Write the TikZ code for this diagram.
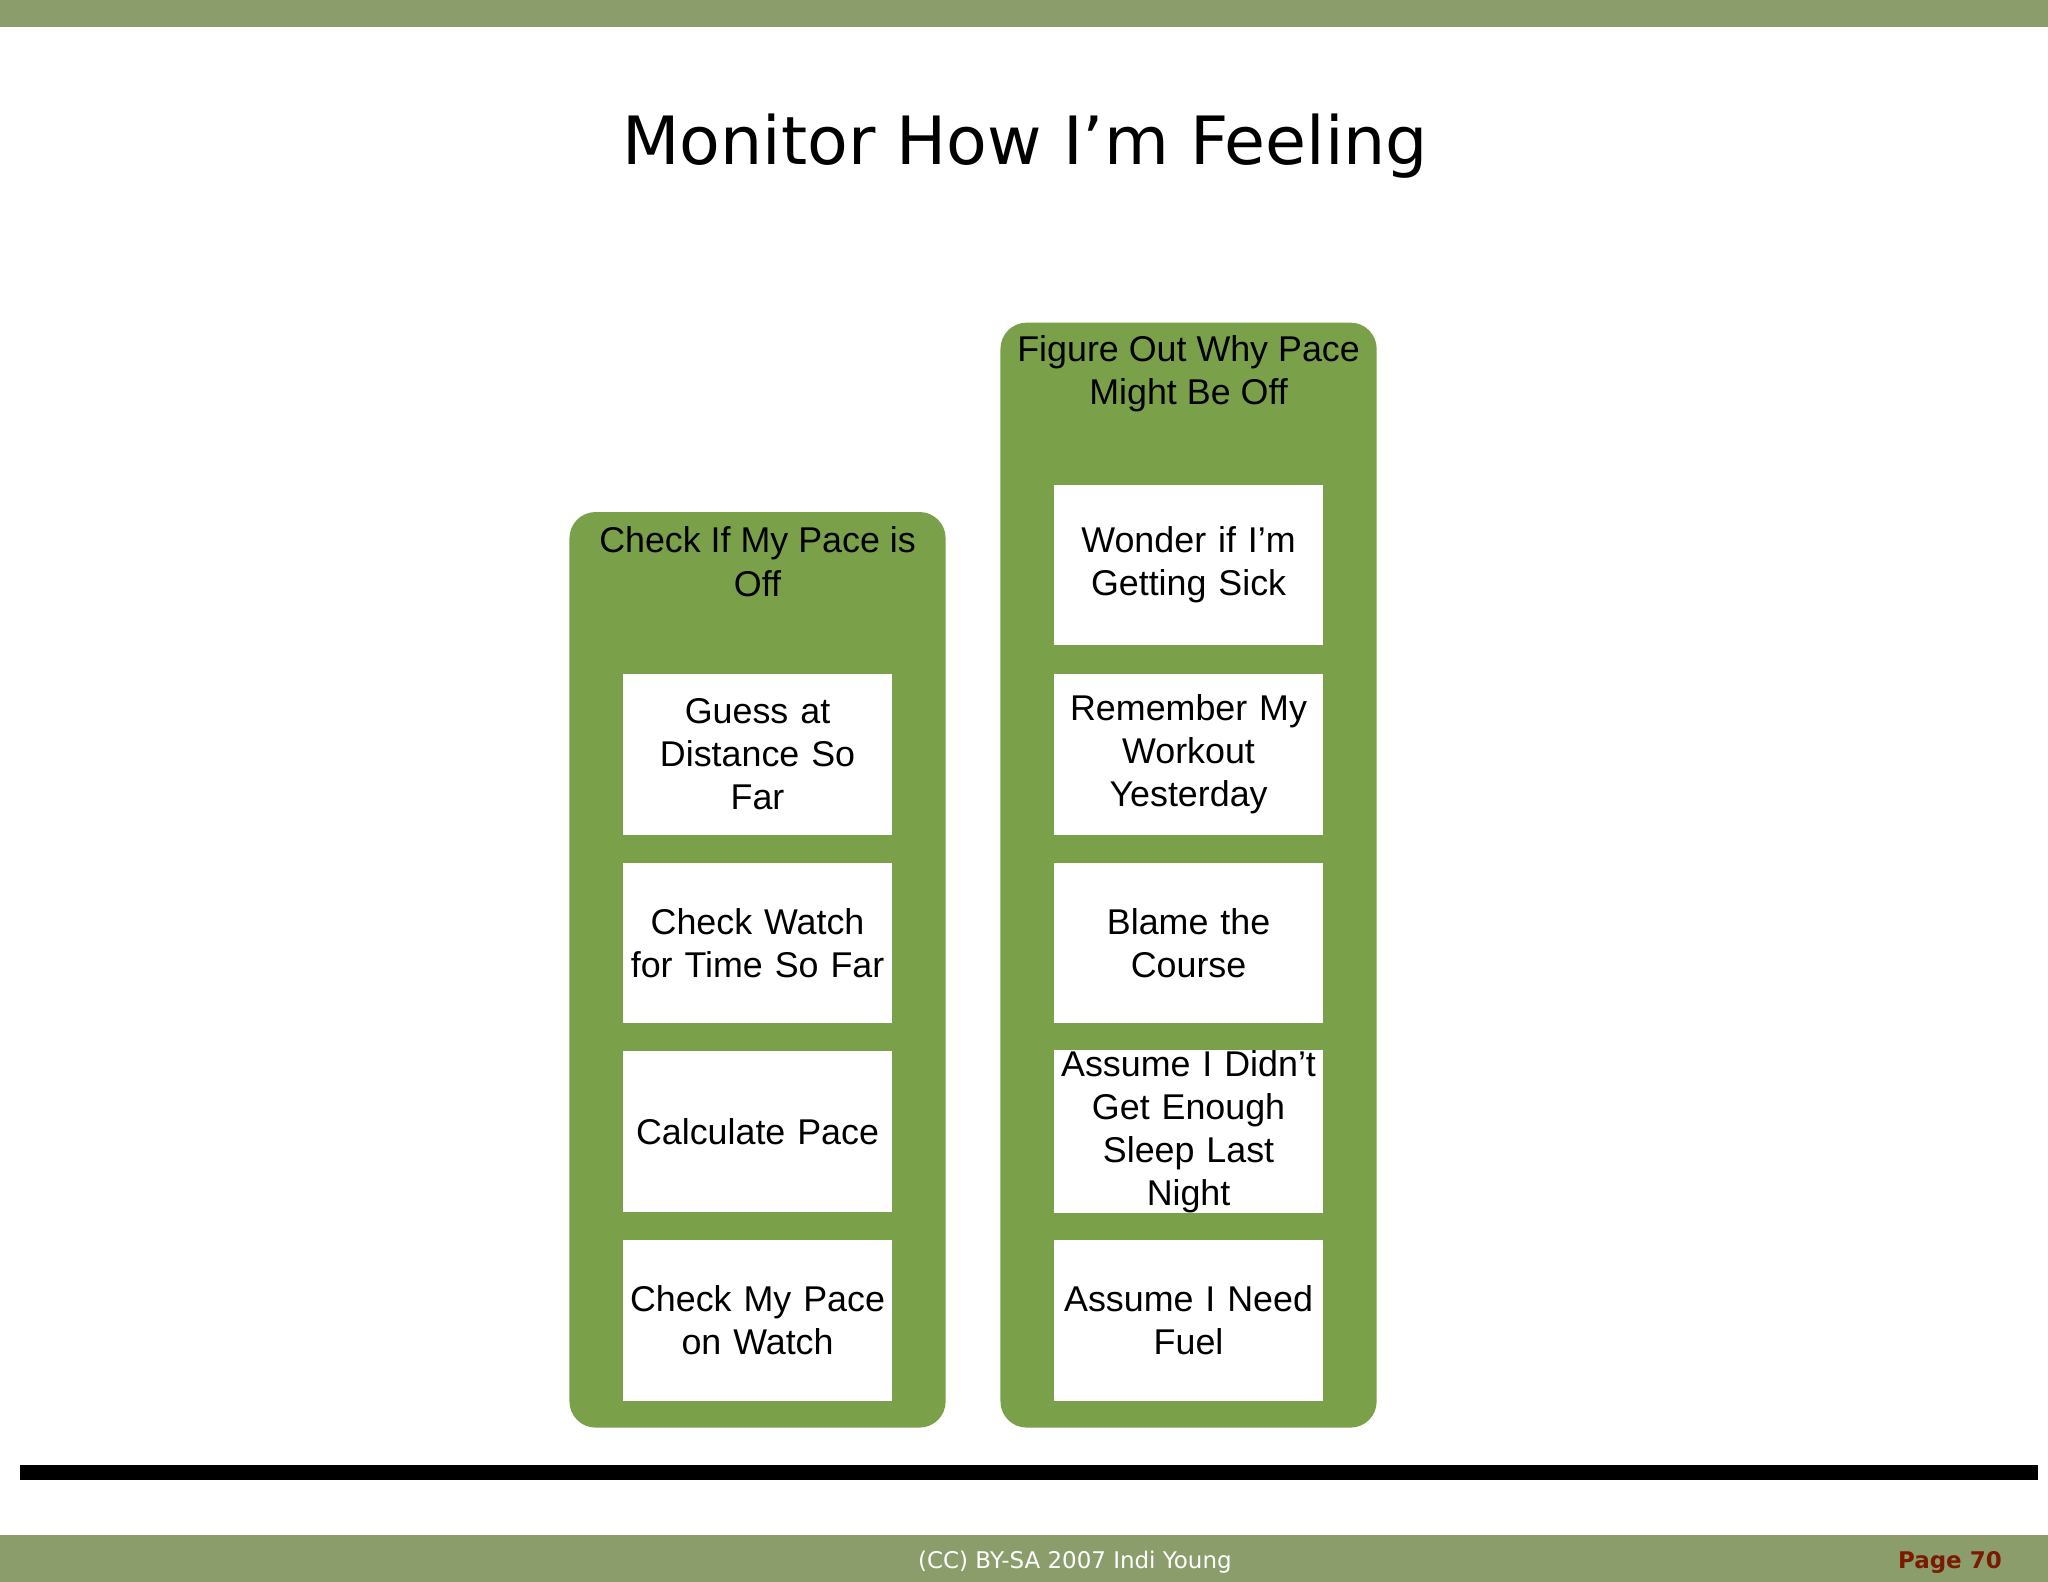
\documentclass[tikz,border=0pt]{standalone}
\usepackage{fontspec}
\setmainfont{Liberation Sans}
\newfontfamily\verd{DejaVu Sans}
\definecolor{barg}{HTML}{8B9D6B}
\definecolor{colg}{HTML}{7BA04A}
\definecolor{pager}{HTML}{7A1A00}
\begin{document}
\begin{tikzpicture}[x=0.01cm,y=-0.01cm,
  col/.style={fill=colg,draw=none,rounded corners=0.2cm},
  item/.style={fill=white,draw=none,minimum width=2.06cm,minimum height=1.23cm,align=center,text width=2.0cm,font=\fontsize{7.8pt}{9.4pt}\selectfont,inner sep=0pt},
  head/.style={align=center,font=\fontsize{7.8pt}{9.4pt}\selectfont}]
\useasboundingbox (0,0) rectangle (1568,1211);
\fill[barg] (0,0) rectangle (1568,21);
\fill[barg] (0,1175) rectangle (1568,1211);
\fill[black] (15,1122) rectangle (1560,1133);
\node[font=\verd\fontsize{14.5pt}{17pt}\selectfont] (title) at (785,112) {Monitor How I’m Feeling};
\fill[col] (436,392) rectangle (724,1093);
\fill[col] (766,247) rectangle (1054,1093);
\node[head] (h1) at (580,430) {Check If My Pace is\\Off};
\node[head] (h2) at (910,286) {Figure Out Why Pace\\Might Be Off};
\node[item] (l1) at (580,577.5) {Guess at\\Distance So\\Far};
\node[item] (l2) at (580,722) {Check Watch\\for Time So Far};
\node[item] (l3) at (580,866.5) {Calculate Pace};
\node[item] (l4) at (580,1011) {Check My Pace\\on Watch};
\node[item] (r0) at (910,432.5) {Wonder if I'm\\Getting Sick};
\node[item] (r1) at (910,577.5) {Remember My\\Workout\\Yesterday};
\node[item] (r2) at (910,722) {Blame the\\Course};
\node[item] (r3) at (910,866.5) {Assume I Didn't\\Get Enough\\Sleep Last\\Night};
\node[item] (r4) at (910,1011) {Assume I Need\\Fuel};
\node[text=white,font=\verd\fontsize{5pt}{6pt}\selectfont] (cc) at (823,1196) {(CC) BY-SA 2007 Indi Young};
\node[anchor=east,text=pager,font=\verd\bfseries\fontsize{5pt}{6pt}\selectfont] (pg) at (1545,1196) {Page 70};
\end{tikzpicture}
\end{document}
